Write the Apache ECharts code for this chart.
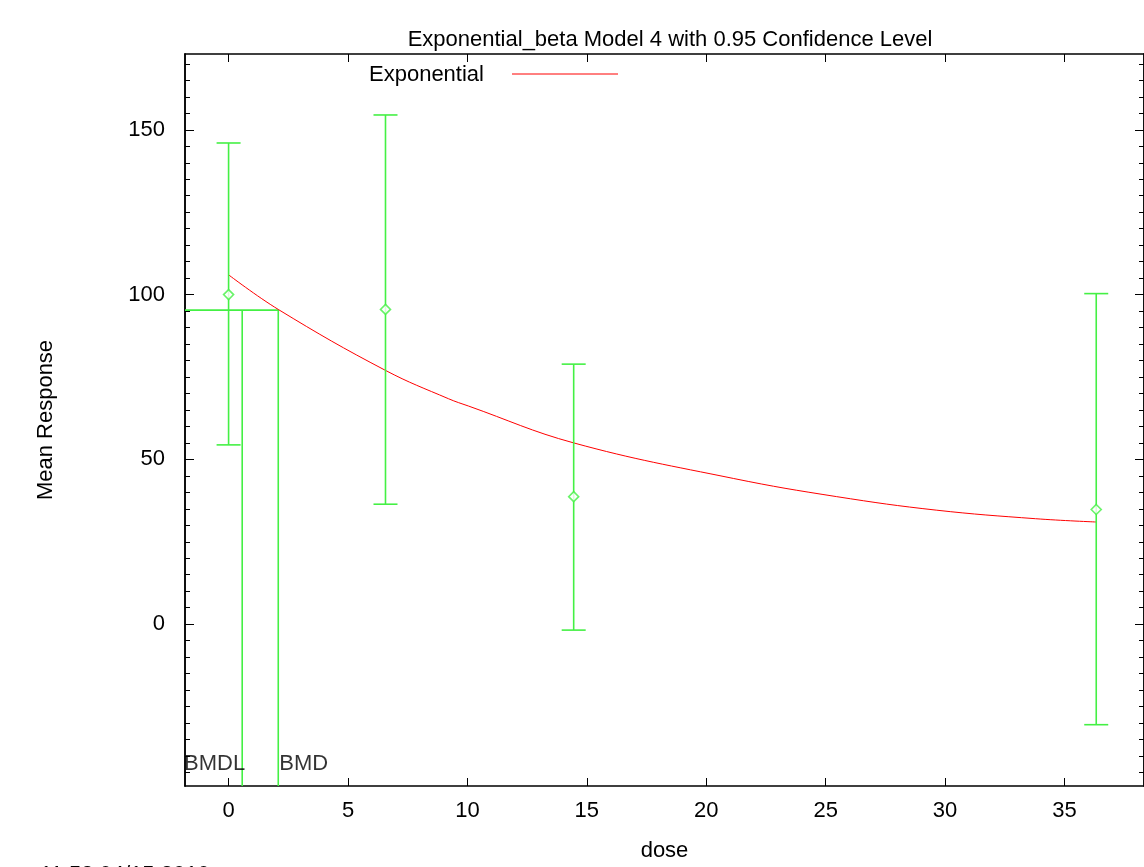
<!DOCTYPE html>
<html><head><meta charset="utf-8">
<script src="https://cdn.jsdelivr.net/npm/echarts@6/dist/echarts.min.js"></script>
<style>html,body{margin:0;padding:0;background:#fff}#c{width:1144px;height:867px}</style>
</head><body><div id="c"></div>
<script>
// ---- data ----
const doses = [0, 6.57, 14.45, 36.33];
const means = [100, 95.5, 38.7, 34.8];
const lowerCI = [54.4, 36.4, -1.8, -30.5];
const upperCI = [146.0, 154.5, 78.9, 100.3];
const curveDose = [0, 2.08, 6.57, 9.21, 10.04, 14.45, 21.15, 25.46, 29.63, 33.79, 36.33];
const curveResp = [106.0, 95.5, 77.0, 68.4, 66.2, 55.0, 44.2, 38.7, 34.6, 32.0, 31.0];
const bmd = 2.08, bmdl = 0.57, bmdResp = 95.3;
const xTicks = [0, 5, 10, 15, 20, 25, 30, 35];
const yTicks = [0, 50, 100, 150];
const yMinorTicks = [-45,-40,-35,-30,-25,-20,-15,-10,-5,0,5,10,15,20,25,30,35,40,45,50,55,60,65,70,75,80,85,90,95,100,105,110,115,120,125,130,135,140,145,150,155,160,165,170];
const xMin = -1.825, xMax = 38.33, yMin = -49.1, yMax = 173;
const titleText = 'Exponential_beta Model 4 with 0.95 Confidence Level';
const stamp = '11:53 04/15 2010';

const green = '#44f044', red = '#ff0000', font = 'Liberation Sans, Arial, sans-serif';
const FS = 22;
const chart = echarts.init(document.getElementById('c'));
const curveData = curveDose.map((d, i) => [d, curveResp[i]]);
const ebData = doses.map((d, i) => [d, lowerCI[i], upperCI[i]]);
const meanData = doses.map((d, i) => [d, means[i]]);

function xAx(pos, labels) {
  return {type: 'value', position: pos, min: xMin, max: xMax, gridIndex: 0,
    axisLine: {show: true, onZero: false, lineStyle: {color: '#000', width: 1.5}},
    axisTick: {show: true, inside: true, length: 8, customValues: xTicks, lineStyle: {color: '#000'}},
    axisLabel: {show: labels, customValues: xTicks, margin: 14, color: '#000', fontSize: FS, fontFamily: font},
    splitLine: {show: false},
    name: labels ? 'dose' : '', nameLocation: 'middle', nameGap: 54,
    nameTextStyle: {color: '#000', fontSize: FS, fontFamily: font}};
}
function yAx(pos, vals, len, labels, name) {
  return {type: 'value', position: pos, min: yMin, max: yMax, offset: 0,
    axisLine: {show: true, onZero: false, lineStyle: {color: '#000', width: 1.5}},
    axisTick: {show: true, inside: true, length: len, customValues: vals, lineStyle: {color: '#000'}},
    axisLabel: {show: labels, customValues: yTicks, margin: 20, color: '#000', fontSize: FS, fontFamily: font},
    splitLine: {show: false},
    name: name || '', nameLocation: 'middle', nameGap: 128,
    nameTextStyle: {color: '#000', fontSize: FS, fontFamily: font}};
}

chart.setOption({
  backgroundColor: '#fff',
  animation: false,
  title: {text: titleText, left: 665, top: 24, textAlign: 'center',
    textStyle: {fontSize: FS, fontWeight: 'normal', color: '#000', fontFamily: font}},
  grid: {left: 185, top: 54, width: 964, height: 733, containLabel: false},
  xAxis: [xAx('bottom', true), xAx('top', false)],
  yAxis: [yAx('left', yTicks, 9, true, 'Mean Response'), yAx('left', yMinorTicks, 5, false),
          yAx('right', yTicks, 9, false), yAx('right', yMinorTicks, 5, false)],
  graphic: [
    {type: 'text', left: 369, top: 64, style: {text: 'Exponential', fontSize: FS, fontFamily: font, fill: '#000'}},
    {type: 'line', shape: {x1: 512, y1: 74, x2: 618, y2: 74}, style: {stroke: red, lineWidth: 1}},
    {type: 'text', left: 40, top: 864, style: {text: stamp, fontSize: FS, fontFamily: font, fill: '#000'}}
  ],
  series: [
    {type: 'line', data: curveData, smooth: 0.4, showSymbol: false, lineStyle: {color: red, width: 1}, z: 3},
    {type: 'custom', data: ebData, z: 4,
      renderItem: function (params, api) {
        const x = api.coord([api.value(0), api.value(1)])[0];
        const lo = api.coord([api.value(0), api.value(1)])[1];
        const hi = api.coord([api.value(0), api.value(2)])[1];
        const st = {stroke: green, lineWidth: 1.6};
        return {type: 'group', children: [
          {type: 'line', shape: {x1: x, y1: lo, x2: x, y2: hi}, style: st},
          {type: 'line', shape: {x1: x - 12, y1: lo, x2: x + 12, y2: lo}, style: st},
          {type: 'line', shape: {x1: x - 12, y1: hi, x2: x + 12, y2: hi}, style: st}
        ]};
      }},
    {type: 'scatter', data: meanData, symbol: 'diamond', symbolSize: 10, z: 5,
      itemStyle: {color: '#fff', borderColor: green, borderWidth: 1.6}},
    {type: 'line', data: [[xMin, bmdResp], [bmd, bmdResp], [bmd, yMin]], showSymbol: false,
      lineStyle: {color: green, width: 1.6}, z: 2},
    {type: 'line', data: [[bmdl, bmdResp], [bmdl, yMin]], showSymbol: false,
      lineStyle: {color: green, width: 1.6}, z: 2},
    {type: 'scatter', symbolSize: 0, z: 6,
      data: [{value: [bmdl, -42.5], label: {show: true, formatter: 'BMDL', position: 'left', distance: -3}},
             {value: [bmd, -42.5], label: {show: true, formatter: 'BMD', position: 'right', distance: 1}}],
      label: {color: '#000', fontSize: FS, fontFamily: font}}
  ]
});
</script></body></html>
